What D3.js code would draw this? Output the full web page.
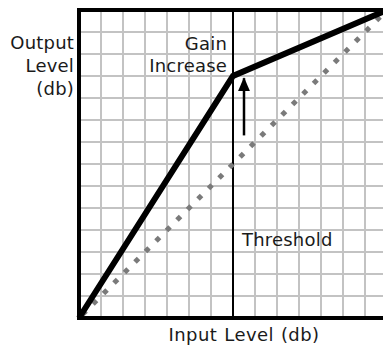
<!DOCTYPE html>
<html>
<head>
<meta charset="utf-8">
<script src="https://cdn.jsdelivr.net/npm/d3@7"></script>
<style>
  body { margin: 0; background: #fff; }
  text { font-family: "DejaVu Sans", Verdana, sans-serif; font-size: 18px; fill: #1a1a1a; letter-spacing: 0.2px; }
</style>
</head>
<body>
<svg id="chart" width="383" height="345"></svg>
<script>
// grid cells, both axes in "grid units"
var gridTicks = d3.range(0, 15);
// compressor curve: input -> output
var curveIn = [0, 7, 14];
var curveOut = [0, 11, 14];
// unity gain reference
var unityIn = [0, 14];
var unityOut = [0, 14];
var threshold = 7;
// gain increase arrow (x, from, to)
var arrowX = 7.5;
var arrowFrom = 8.3;
var arrowTo = 10.9;

var yLabel = ["Output", "Level", "(db)"];
var gainLabel = ["Gain", "Increase"];
var thresholdLabel = "Threshold";
var xLabel = "Input Level (db)";

var svg = d3.select("#chart");
var x = d3.scaleLinear().domain([0, 14]).range([79, 387]);
var y = d3.scaleLinear().domain([0, 14]).range([318, 10]);

svg.append("defs").append("marker")
    .attr("id", "head")
    .attr("viewBox", "0 0 14 12")
    .attr("refX", 13).attr("refY", 6)
    .attr("markerWidth", 14).attr("markerHeight", 12)
    .attr("markerUnits", "userSpaceOnUse")
    .attr("orient", "auto")
  .append("path")
    .attr("d", "M0,0 L14,6 L0,12 Z")
    .attr("fill", "#000");

// grid
svg.append("g").selectAll("line")
    .data(gridTicks)
    .enter().append("line")
    .attr("x1", d => x(d)).attr("x2", d => x(d))
    .attr("y1", y(0)).attr("y2", y(14))
    .attr("stroke", "#c3c3c3").attr("stroke-width", 2);
svg.append("g").selectAll("line")
    .data(gridTicks)
    .enter().append("line")
    .attr("y1", d => y(d)).attr("y2", d => y(d))
    .attr("x1", x(0)).attr("x2", x(14))
    .attr("stroke", "#c3c3c3").attr("stroke-width", 2);

// frame: left, top, bottom
svg.append("path")
    .attr("d", "M" + x(14) + "," + y(14) + "H" + x(0) + "V" + y(0) + "H" + x(14))
    .attr("fill", "none").attr("stroke", "#000").attr("stroke-width", 4);

// threshold
svg.append("line")
    .attr("x1", x(threshold)).attr("x2", x(threshold))
    .attr("y1", y(0)).attr("y2", y(14))
    .attr("stroke", "#000").attr("stroke-width", 2);

var line = d3.line().x(d => x(d[0])).y(d => y(d[1]));

// unity reference (diamond dots)
svg.append("path")
    .attr("d", line(d3.zip(unityIn, unityOut)))
    .attr("fill", "none")
    .attr("stroke", "#7a7a7a")
    .attr("stroke-width", 5)
    .attr("stroke-dasharray", "5,9.85")
    .attr("stroke-dashoffset", 9.9);

// compressor curve
svg.append("path")
    .attr("d", line(d3.zip(curveIn, curveOut)))
    .attr("fill", "none")
    .attr("stroke", "#000")
    .attr("stroke-width", 6)
    .attr("stroke-linejoin", "miter");

// arrow
svg.append("line")
    .attr("x1", x(arrowX)).attr("x2", x(arrowX))
    .attr("y1", y(arrowFrom)).attr("y2", y(arrowTo))
    .attr("stroke", "#000").attr("stroke-width", 2.5)
    .attr("marker-end", "url(#head)");

// labels
svg.append("text")
    .attr("text-anchor", "end")
    .selectAll("tspan")
    .data(yLabel)
    .enter().append("tspan")
    .attr("x", 74)
    .attr("y", (d, i) => 49 + i * 23)
    .text(d => d);

svg.append("text")
    .attr("text-anchor", "end")
    .selectAll("tspan")
    .data(gainLabel)
    .enter().append("tspan")
    .attr("x", 227)
    .attr("y", (d, i) => 50 + i * 22)
    .text(d => d);

svg.append("text")
    .attr("x", 242).attr("y", 246)
    .text(thresholdLabel);

svg.append("text")
    .attr("x", 244).attr("y", 341)
    .attr("text-anchor", "middle")
    .style("word-spacing", "1px")
    .style("letter-spacing", "0.4px")
    .text(xLabel);
</script>
</body>
</html>
